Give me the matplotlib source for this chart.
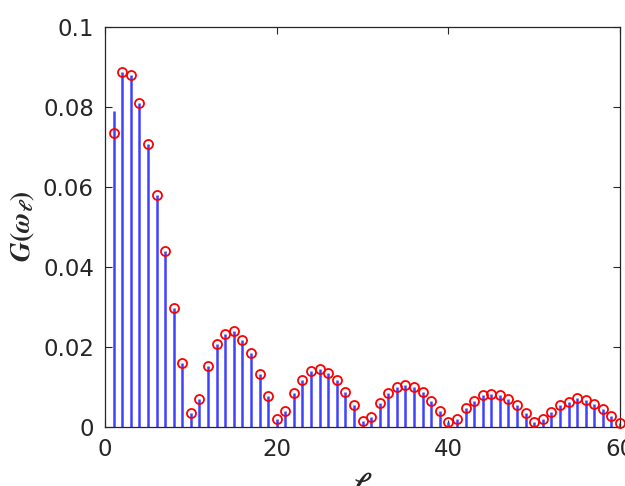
import matplotlib
matplotlib.use("Agg")
import matplotlib.pyplot as plt

ell = list(range(1, 61))
# red circle values G(omega_l)
circle_vals = [0.0734, 0.0887, 0.0880, 0.0811, 0.0708, 0.0580, 0.0440, 0.0297, 0.0161, 0.0036,
               0.0069, 0.0152, 0.0207, 0.0233, 0.0239, 0.0218, 0.0185, 0.0133, 0.0078, 0.0020,
               0.0039, 0.0085, 0.0117, 0.0139, 0.0146, 0.0136, 0.0117, 0.0087, 0.0055, 0.0015,
               0.0026, 0.0061, 0.0084, 0.0101, 0.0106, 0.0100, 0.0087, 0.0065, 0.0039, 0.0012,
               0.0019, 0.0047, 0.0066, 0.0079, 0.0083, 0.0079, 0.0069, 0.0055, 0.0034, 0.0012,
               0.0019, 0.0038, 0.0055, 0.0063, 0.0072, 0.0068, 0.0057, 0.0044, 0.0028, 0.0009]
# blue stem values
stem_vals = [0.0791, 0.0887, 0.0880, 0.0811, 0.0708, 0.0580, 0.0440, 0.0297, 0.0161, 0.0036,
             0.0069, 0.0152, 0.0207, 0.0233, 0.0239, 0.0218, 0.0185, 0.0133, 0.0078, 0.0020,
             0.0039, 0.0085, 0.0117, 0.0139, 0.0146, 0.0136, 0.0117, 0.0087, 0.0055, 0.0015,
             0.0026, 0.0061, 0.0084, 0.0101, 0.0106, 0.0100, 0.0087, 0.0065, 0.0039, 0.0012,
             0.0019, 0.0047, 0.0066, 0.0079, 0.0083, 0.0079, 0.0069, 0.0055, 0.0034, 0.0012,
             0.0019, 0.0038, 0.0055, 0.0063, 0.0072, 0.0068, 0.0057, 0.0044, 0.0028, 0.0009]
xticks = [0, 20, 40, 60]
yticks = [0, 0.02, 0.04, 0.06, 0.08, 0.1]
yticklabels = ["0", "0.02", "0.04", "0.06", "0.08", "0.1"]

plt.rcParams['font.family'] = ['DejaVu Sans']
plt.rcParams['mathtext.fontset'] = 'stix'

fig = plt.figure(figsize=(6.25, 4.86), dpi=100)
ax = fig.add_axes([105/625, 59/486, 515/625, 400/486])

ax.vlines(ell, 0, stem_vals, colors=(0.25, 0.25, 1.0), linewidth=1.8, zorder=2)
ax.plot(ell, circle_vals, linestyle='none', marker='o', markersize=6.5,
        markerfacecolor='none', markeredgecolor='red', markeredgewidth=1.3, zorder=3,
        clip_on=False)

ax.set_xlim(0, 60)
ax.set_ylim(0, 0.1)
ax.set_xticks(xticks)
ax.set_yticks(yticks)
ax.set_yticklabels(yticklabels)
ax.tick_params(direction='in', top=True, right=True, labelsize=16.5,
               colors='#262626', length=5, width=0.8)
ax.tick_params(axis='y', pad=8)
ax.tick_params(axis='x', pad=8)
for s in ax.spines.values():
    s.set_color('#262626')
    s.set_linewidth(0.9)

ax.set_ylabel(r'$\mathbfit{G}\mathbf{(}\mathbfit{\omega}_{\mathbfit{\ell}}\mathbf{)}$',
              fontsize=20, color='#262626', labelpad=4)
ax.set_xlabel(r'$\mathbfit{\ell}$', fontsize=20, color='#262626', labelpad=6)

fig.savefig('out.png', dpi=100)
